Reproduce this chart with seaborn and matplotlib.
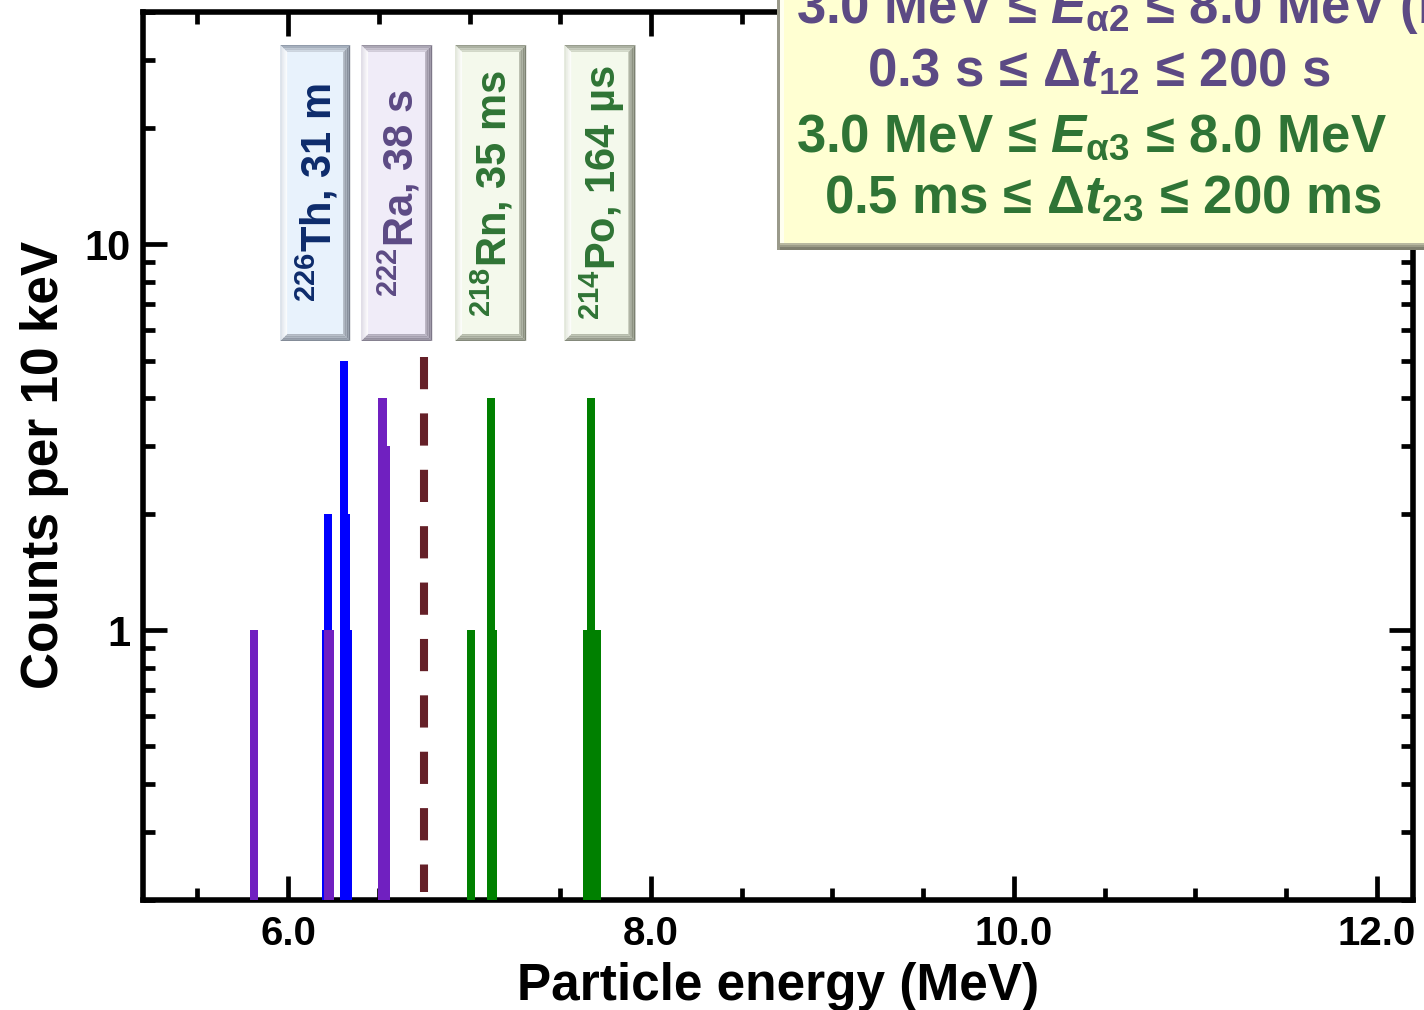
import numpy as np
import pandas as pd
import matplotlib
matplotlib.use("Agg")
import matplotlib.pyplot as plt
import seaborn as sns
from matplotlib.patches import Rectangle, Polygon
from matplotlib.transforms import blended_transform_factory
from matplotlib.ticker import MultipleLocator, FixedLocator, NullFormatter, FormatStrFormatter
from matplotlib.colors import to_rgb

# ---------------------------------------------------------------
# Alpha-particle energy spectra (10 keV bins): energy in MeV, counts
# ---------------------------------------------------------------
th226_energy = [6.21, 6.22, 6.23, 6.31, 6.32, 6.33]
th226_counts = [1, 2, 1, 5, 2, 1]

ra222_energy = [5.81, 6.22, 6.23, 6.52, 6.54]
ra222_counts = [1, 1, 1, 4, 3]

rn218_po214_energy = [7.01, 7.12, 7.13, 7.65, 7.66, 7.67, 7.68, 7.69, 7.70]
rn218_po214_counts = [1, 4, 1, 1, 1, 4, 1, 1, 1]

# energy cut separating the parent region from the daughters
cut_energy = 6.75
cut_span = (0.21, 5.1)

# isotope tags: label, left/right edge (MeV)
tag_labels = ["$^{226}$Th, 31 m", "$^{222}$Ra, 38 s", "$^{218}$Rn, 35 ms", "$^{214}$Po, 164 µs"]
tag_left = [5.956, 6.402, 6.920, 7.522]
tag_right = [6.342, 6.794, 7.312, 7.914]

# correlation window conditions
cond_lines = [
    "3.0 MeV ≤ $\\mathit{E}_{α2}$ ≤ 8.0 MeV (beam off)",
    "0.3 s ≤ $\\mathit{Δt}_{12}$ ≤ 200 s",
    "3.0 MeV ≤ $\\mathit{E}_{α3}$ ≤ 8.0 MeV",
    "0.5 ms ≤ $\\mathit{Δt}_{23}$ ≤ 200 ms",
]

x_ticks = [6.0, 8.0, 10.0, 12.0]
y_ticks = [1, 10]
y_ticklabels = ["1", "10"]

# ---------------------------------------------------------------
W, H = 1424, 1010
sns.set_theme(style="ticks")
plt.rcParams.update({
    "font.family": ["Liberation Sans", "DejaVu Sans"],
    "font.weight": "bold",
    "text.color": "black",
    "axes.labelcolor": "black",
    "xtick.color": "black",
    "ytick.color": "black",
    "xtick.labelcolor": "black",
    "ytick.labelcolor": "black",
    "mathtext.fontset": "custom",
    "mathtext.rm": "Liberation Sans:bold",
    "mathtext.bf": "Liberation Sans:bold",
    "mathtext.it": "Liberation Sans:italic:bold",
    "mathtext.sf": "Liberation Sans:bold",
    "mathtext.default": "rm",
})

BLUE = "#0000FF"
PURPLE = "#7020C0"
GREEN = "#008000"
CUT = "#652028"
TXT_PURPLE = "#5C4A84"
TXT_GREEN = "#2F7435"
TXT_NAVY = "#0D2B6B"

fig = plt.figure(figsize=(W / 100, H / 100), dpi=100)
fig.patch.set_facecolor("white")
ax_l, ax_r, ax_t, ax_b = 143, 1413, 12, 900
ax = fig.add_axes([ax_l / W, 1 - ax_b / H, (ax_r - ax_l) / W, (ax_b - ax_t) / H])
ax.set_facecolor("white")

spectra = pd.concat([
    pd.DataFrame({"energy": th226_energy, "counts": th226_counts, "group": "Th"}),
    pd.DataFrame({"energy": ra222_energy, "counts": ra222_counts, "group": "Ra"}),
    pd.DataFrame({"energy": rn218_po214_energy, "counts": rn218_po214_counts, "group": "RnPo"}),
], ignore_index=True)

BAR_W = 0.045
for grp, col in [("Th", BLUE), ("Ra", PURPLE), ("RnPo", GREEN)]:
    d = spectra[spectra.group == grp]
    ax.bar(d.energy, d.counts, width=BAR_W, color=col, linewidth=0, zorder=3)

ax.plot([cut_energy, cut_energy], [cut_span[1], cut_span[0]], color=CUT,
        linewidth=5.8, linestyle=(0, (4, 3)), dash_capstyle="butt", zorder=3)

ax.set_yscale("log")
ax.set_xlim(5.2, 12.2)
ax.set_ylim(0.2, 40)

ax.xaxis.set_major_locator(FixedLocator(x_ticks))
ax.xaxis.set_major_formatter(FormatStrFormatter("%.1f"))
ax.xaxis.set_minor_locator(MultipleLocator(0.5))
ax.yaxis.set_major_locator(FixedLocator(y_ticks))
ax.set_yticklabels(y_ticklabels)
ax.yaxis.set_minor_locator(FixedLocator([0.2, 0.3, 0.4, 0.5, 0.6, 0.7, 0.8, 0.9,
                                         2, 3, 4, 5, 6, 7, 8, 9, 20, 30, 40]))
ax.yaxis.set_minor_formatter(NullFormatter())

for s in ax.spines.values():
    s.set_linewidth(4.0)
    s.set_color("black")
    s.set_visible(True)
ax.tick_params(which="both", direction="in", top=True, right=True, color="black",
               labelcolor="black")
ax.tick_params(which="major", length=17, width=3.4)
ax.tick_params(which="minor", length=8.5, width=3.4)
ax.tick_params(axis="x", which="major", labelsize=29, pad=11)
ax.tick_params(axis="y", which="major", labelsize=30, pad=9)
for lab in ax.get_xticklabels() + ax.get_yticklabels():
    lab.set_fontweight("bold")
ax.grid(False)

LABEL_FONT = ["Liberation Sans Narrow", "Liberation Sans", "DejaVu Sans"]
ax.set_xlabel("Particle energy (MeV)", fontsize=37, fontweight="bold",
              family=LABEL_FONT, labelpad=6, color="black")
ax.set_ylabel("Counts per 10 keV", fontsize=37, fontweight="bold",
              family=LABEL_FONT, color="black")
ax.yaxis.set_label_coords(-0.058, 0.49)


def mix(c1, c2, t):
    a, b = np.array(to_rgb(c1)), np.array(to_rgb(c2))
    return tuple(a + (b - a) * t)


def bevel_box(ax, tr, x0, x1, y0, y1, bx, by, face, edges, z, steps=4):
    """Rectangle with a bevelled rim; edges = dict side -> (outer, inner)."""
    ax.add_patch(Rectangle((x0, y0), x1 - x0, y1 - y0, transform=tr, facecolor=face,
                           edgecolor="none", zorder=z, clip_on=False))
    for i in range(steps):
        t0, t1 = i / steps, (i + 1) / steps
        xa, xb = x0 + bx * t0, x0 + bx * t1
        xc, xd = x1 - bx * t0, x1 - bx * t1
        ya, yb = y0 + by * t0, y0 + by * t1
        yc, yd = y1 - by * t0, y1 - by * t1
        polys = {
            "top": [(xa, yc), (xc, yc), (xd, yd), (xb, yd)],
            "bottom": [(xa, ya), (xc, ya), (xd, yb), (xb, yb)],
            "left": [(xa, ya), (xa, yc), (xb, yd), (xb, yb)],
            "right": [(xc, ya), (xc, yc), (xd, yd), (xd, yb)],
        }
        for side, pts in polys.items():
            o, inn = edges[side]
            ax.add_patch(Polygon(pts, closed=True, transform=tr,
                                 facecolor=mix(o, inn, (i + 0.5) / steps),
                                 edgecolor="none", zorder=z + 0.1, clip_on=False))


# isotope tags above the peaks
tag_tr = blended_transform_factory(ax.transData, ax.transAxes)
tag_faces = ["#E8F2FC", "#F0ECF8", "#F4F9EC", "#F4F9EC"]
tag_text_cols = [TXT_NAVY, TXT_PURPLE, TXT_GREEN, TXT_GREEN]
tag_edges = [
    {"top": ("#8893A3", "#D6DDE6"), "bottom": ("#7D8591", "#B7BEC8"),
     "left": ("#D8DEE6", "#FFFFFF"), "right": ("#6F7784", "#B3BAC4")},
    {"top": ("#8E8A98", "#DAD5E2"), "bottom": ("#7E7988", "#BBB6C4"),
     "left": ("#DCD8E2", "#FFFFFF"), "right": ("#756F80", "#B8B2C0")},
    {"top": ("#8E9384", "#DCE2D2"), "bottom": ("#7C8173", "#BEC4B4"),
     "left": ("#DEE3D6", "#FFFFFF"), "right": ("#727768", "#B9BEAE")},
    {"top": ("#8E9384", "#DCE2D2"), "bottom": ("#7C8173", "#BEC4B4"),
     "left": ("#DEE3D6", "#FFFFFF"), "right": ("#727768", "#B9BEAE")},
]
px_per_mev = (ax_r - ax_l) / (12.2 - 5.2)
bx = 7 / px_per_mev
by = 7 / (ax_b - ax_t)
ty0, ty1 = (ax_b - 341) / (ax_b - ax_t), (ax_b - 45) / (ax_b - ax_t)
for lab, x0, x1, face, tc, ed in zip(tag_labels, tag_left, tag_right, tag_faces,
                                     tag_text_cols, tag_edges):
    bevel_box(ax, tag_tr, x0, x1, ty0, ty1, bx, by, face, ed, z=5)
    ax.text((x0 + x1) / 2 + 0.012, (ty0 + ty1) / 2, lab, transform=tag_tr, rotation=90,
            ha="center", va="center", fontsize=30, fontweight="bold", color=tc, zorder=6)

# condition panel in the upper right corner (figure pixel coordinates)
def fx(px):
    return px / W


def fy(py):
    return 1 - py / H


panel_x0, panel_y1 = 777, 250
fig.add_artist(Rectangle((fx(panel_x0), fy(panel_y1)), 1.1 - fx(panel_x0), 1.1,
                         transform=fig.transFigure, facecolor="#FFFFD2",
                         edgecolor="none", zorder=5))
for i, (c, w) in enumerate([("#B8B8A0", 7), ("#9C9C88", 5), ("#808070", 3)]):
    fig.add_artist(Rectangle((fx(panel_x0), fy(panel_y1)), 1.1, w / H,
                             transform=fig.transFigure, facecolor=c,
                             edgecolor="none", zorder=5.1 + i * 0.01))
fig.add_artist(Rectangle((fx(panel_x0), fy(panel_y1)), 3 / W, 1.1,
                         transform=fig.transFigure, facecolor="#9A9A8A",
                         edgecolor="none", zorder=5.2))
fig.add_artist(Rectangle((fx(panel_x0 + 3), fy(panel_y1 - 7)), 4 / W, 1.1,
                         transform=fig.transFigure, facecolor="#FFFFF0",
                         edgecolor="none", zorder=5.2))

cond_cols = [TXT_PURPLE, TXT_PURPLE, TXT_GREEN, TXT_GREEN]
cond_x = [796, 1099, 1091, 1103]
cond_ha = ["left", "center", "center", "center"]
cond_base = [23, 87, 152, 213]
for txt, c, x, ha, yb in zip(cond_lines, cond_cols, cond_x, cond_ha, cond_base):
    fig.text(fx(x), fy(yb), txt, ha=ha, va="baseline", fontsize=38,
             fontweight="bold", color=c, zorder=6)

fig.savefig("out.png", dpi=100)
